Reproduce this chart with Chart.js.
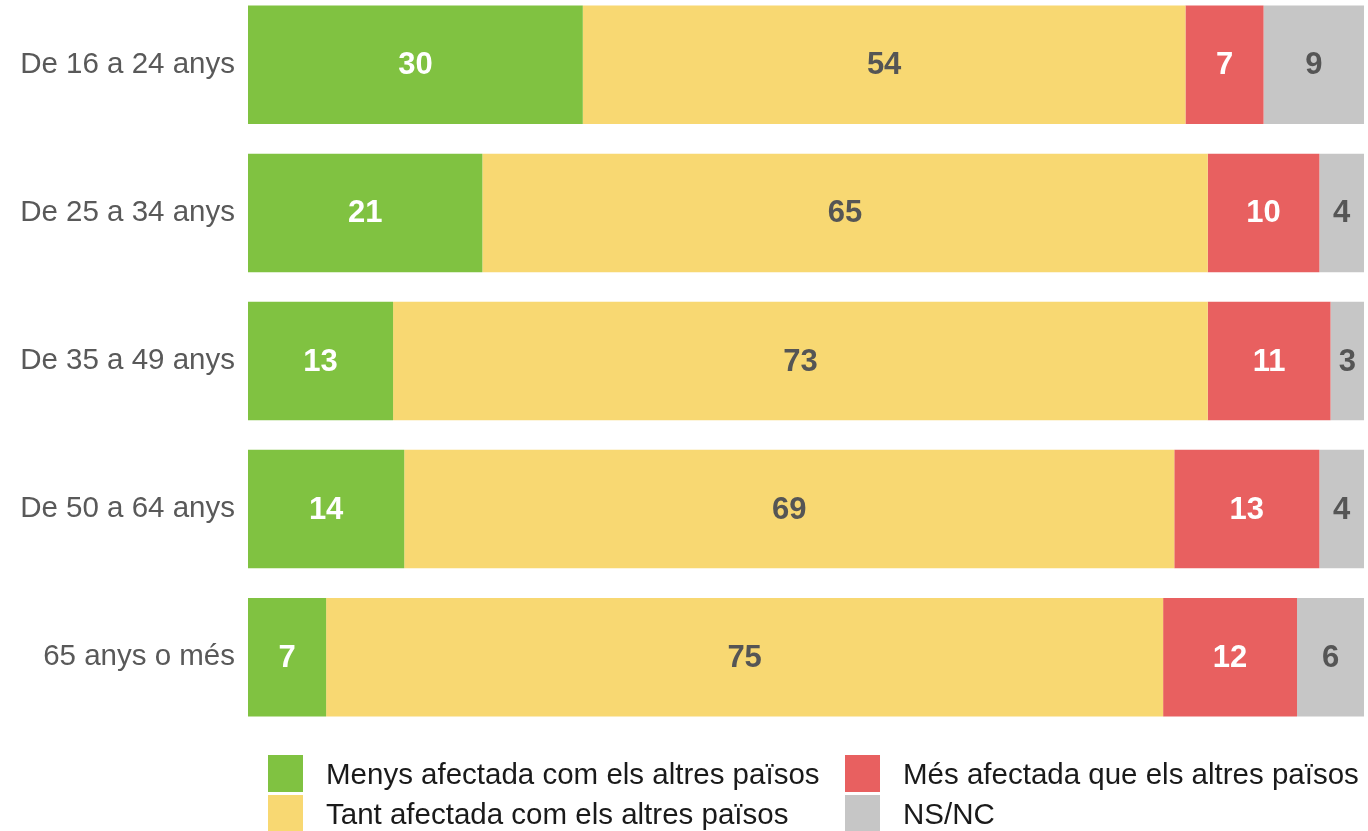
<!DOCTYPE html>
<html lang="ca">
<head>
  <meta charset="UTF-8">
  <title>Afectació per edat</title>
  <script src="https://cdn.jsdelivr.net/npm/chart.js"></script>
  <style>
    body { margin: 0; background: #fff; font-family: "Liberation Sans", Arial, sans-serif; overflow: hidden; }
    #wrap { position: absolute; left: 0; top: -40px; width: 1368px; height: 802px; }
    .lg { position: absolute; font-size: 29.5px; color: #1a1a1a; line-height: 37px; white-space: nowrap; }
    .sq { position: absolute; width: 35px; height: 37px; }
  </style>
</head>
<body>
  <div id="wrap"><canvas id="grafic"></canvas></div>
  <div id="llegenda"></div>

<script>
  const edats = ['De 16 a 24 anys', 'De 25 a 34 anys', 'De 35 a 49 anys', 'De 50 a 64 anys', '65 anys o més'];
  const menys = [30, 21, 13, 14, 7];
  const tant = [54, 65, 73, 69, 75];
  const mes = [7, 10, 11, 13, 12];
  const nsnc = [9, 4, 3, 4, 6];

  const series = [
    { label: 'Menys afectada com els altres països', data: menys, color: '#80c241', text: '#ffffff' },
    { label: 'Tant afectada com els altres països', data: tant, color: '#f8d872', text: '#555555' },
    { label: 'Més afectada que els altres països', data: mes, color: '#e86060', text: '#ffffff' },
    { label: 'NS/NC', data: nsnc, color: '#c6c6c6', text: '#555555' }
  ];

  // etiquetes de valor al centre de cada tram
  const etiquetes = {
    id: 'etiquetes',
    afterDatasetsDraw(chart) {
      const ctx = chart.ctx;
      ctx.save();
      ctx.font = 'bold 31px "Liberation Sans", Arial, sans-serif';
      ctx.textAlign = 'center';
      ctx.textBaseline = 'middle';
      chart.data.datasets.forEach(function (ds, i) {
        chart.getDatasetMeta(i).data.forEach(function (bar, j) {
          const c = bar.getCenterPoint();
          ctx.fillStyle = series[i].text;
          ctx.fillText(ds.data[j], c.x, c.y + 1);
        });
      });
      ctx.restore();
    }
  };

  new Chart(document.getElementById('grafic'), {
    type: 'bar',
    data: {
      labels: edats,
      datasets: series.map(function (s) {
        return { label: s.label, data: s.data, backgroundColor: s.color, borderWidth: 0,
                 barPercentage: 1, categoryPercentage: 0.8 };
      })
    },
    options: {
      indexAxis: 'y',
      responsive: true,
      maintainAspectRatio: false,
      animation: false,
      layout: { padding: { right: 4, top: 0, bottom: 0 } },
      plugins: { legend: { display: false }, tooltip: { enabled: false } },
      scales: {
        x: { stacked: true, min: 0, max: 100, display: false },
        y: {
          stacked: true,
          grid: { display: false, drawTicks: false },
          border: { display: false },
          ticks: { color: '#595959', padding: 13, font: { size: 29.5, family: '"Liberation Sans", Arial, sans-serif' } },
          afterFit: function (scale) { scale.width = 248; }
        }
      }
    },
    plugins: [etiquetes]
  });

  // llegenda en dues columnes
  const llocs = [
    { x: 268, y: 755 }, { x: 268, y: 795 }, { x: 845, y: 755 }, { x: 845, y: 795 }
  ];
  const llegenda = document.getElementById('llegenda');
  series.forEach(function (s, i) {
    const p = llocs[i];
    llegenda.innerHTML += '<div class="sq" style="left:' + p.x + 'px;top:' + p.y + 'px;background:' + s.color + '"></div>' +
      '<div class="lg" style="left:' + (p.x + 58) + 'px;top:' + (p.y) + 'px">' + s.label + '</div>';
  });
</script>
</body>
</html>
